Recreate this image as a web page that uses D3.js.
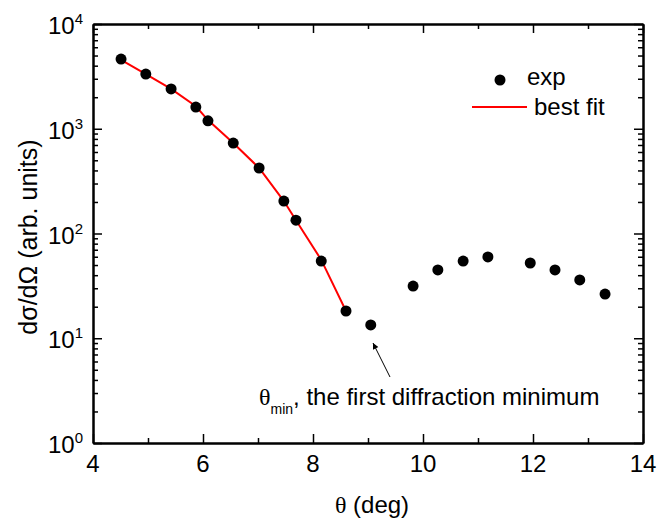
<!DOCTYPE html>
<html>
<head>
<meta charset="utf-8">
<script src="https://cdn.jsdelivr.net/npm/d3@7"></script>
<style>
  body { margin: 0; background: #fff; }
  text { font-family: "Liberation Sans", Arial, sans-serif; fill: #000; }
  .domain { stroke: #000; stroke-width: 2; }
  .tick line { stroke: #000; stroke-width: 1.5; }
</style>
</head>
<body>
<div id="chart"></div>
<script>
// DATA
var expTheta = [4.51, 4.96, 5.42, 5.87, 6.09, 6.55, 7.02, 7.47, 7.69, 8.15, 8.6, 9.05,
                9.82, 10.27, 10.73, 11.18, 11.95, 12.4, 12.85, 13.31]
var expSigma = [4630, 3330, 2400, 1610, 1190, 730, 422, 204, 134, 54.6, 18.2, 13.4,
                31.5, 44.9, 54.6, 59.7, 52.3, 44.9, 36.0, 26.4]
var fitTheta = [4.51, 4.96, 5.42, 5.87, 6.09, 6.55, 7.02, 7.47, 7.69, 8.15, 8.6]
var fitSigma = [4550, 3330, 2400, 1640, 1210, 730, 422, 204, 134, 56, 18.2]
var xTicks = [4, 6, 8, 10, 12, 14]
var xMinor = [5, 7, 9, 11, 13]
var yExp = [0, 1, 2, 3, 4]

//MARGIN CONVENTION
var MARGIN = { LEFT: 93, RIGHT: 15, TOP: 24, BOTTOM: 75 }
var W = 658, H = 518
var CANVAS = { WIDTH: W - MARGIN.LEFT - MARGIN.RIGHT, HEIGHT: H - MARGIN.TOP - MARGIN.BOTTOM }

const svg = d3.select("#chart").append("svg").attr("width", W).attr("height", H)
const g = svg.append("g").attr("transform", `translate(${MARGIN.LEFT}, ${MARGIN.TOP})`)

//SCALES
const x = d3.scaleLinear().domain([4, 14]).range([0, CANVAS.WIDTH])
const y = d3.scaleLog().domain([1, 1e4]).range([CANVAS.HEIGHT, 0])

var yMajor = yExp.map(e => Math.pow(10, e))
var yMinor = []
yExp.slice(0, -1).forEach(e => { for (var k = 2; k <= 9; k++) yMinor.push(k * Math.pow(10, e)) })

//AXES (inward ticks on all four sides)
function addAxis(axisFn, scale, values, size, transform) {
  return g.append("g").attr("transform", transform)
    .call(axisFn(scale).tickValues(values).tickSizeInner(-size).tickSizeOuter(0).tickFormat(""))
}
addAxis(d3.axisBottom, x, xTicks, 9, `translate(0, ${CANVAS.HEIGHT})`)
addAxis(d3.axisBottom, x, xMinor, 5, `translate(0, ${CANVAS.HEIGHT})`)
addAxis(d3.axisTop, x, xTicks, 9, `translate(0, 0)`)
addAxis(d3.axisTop, x, xMinor, 5, `translate(0, 0)`)
addAxis(d3.axisLeft, y, yMajor, 9, `translate(0, 0)`)
addAxis(d3.axisLeft, y, yMinor, 5, `translate(0, 0)`)
addAxis(d3.axisRight, y, yMajor, 9, `translate(${CANVAS.WIDTH}, 0)`)
addAxis(d3.axisRight, y, yMinor, 5, `translate(${CANVAS.WIDTH}, 0)`)

// tick labels
g.selectAll(".xlab").data(xTicks).join("text")
  .attr("x", d => x(d)).attr("y", CANVAS.HEIGHT + 29)
  .attr("text-anchor", "middle").attr("font-size", 24).text(d => d)

const yl = g.selectAll(".ylab").data(yExp).join("text")
  .attr("x", -10).attr("y", d => y(Math.pow(10, d)) + 10)
  .attr("text-anchor", "end").attr("font-size", 24)
yl.append("tspan").text("10")
yl.append("tspan").attr("font-size", 15).attr("dy", -10).text(d => d)

// axis titles
svg.append("text")
  .attr("transform", `translate(37, 237) rotate(-90)`)
  .attr("text-anchor", "middle").attr("font-size", 25)
  .text("dσ/dΩ (arb. units)")
const xt = svg.append("text")
  .attr("x", 372).attr("y", 513)
  .attr("text-anchor", "middle").attr("font-size", 24)
xt.append("tspan").attr("font-family", "Liberation Serif, DejaVu Serif, serif").text("θ")
xt.append("tspan").text(" (deg)")

// fit line
const line = d3.line().x(d => x(d[0])).y(d => y(d[1]))
g.append("path").datum(d3.zip(fitTheta, fitSigma))
  .attr("d", line).attr("fill", "none").attr("stroke", "#ff0000").attr("stroke-width", 2)

// exp points
g.selectAll(".pt").data(d3.zip(expTheta, expSigma)).join("circle")
  .attr("cx", d => x(d[0])).attr("cy", d => y(d[1])).attr("r", 5.5).attr("fill", "#000")

// legend
g.append("circle").attr("cx", 407).attr("cy", 56).attr("r", 5.5).attr("fill", "#000")
g.append("text").attr("x", 434).attr("y", 61).attr("font-size", 24).text("exp")
g.append("line").attr("x1", 379).attr("x2", 434).attr("y1", 83).attr("y2", 83)
  .attr("stroke", "#ff0000").attr("stroke-width", 2)
g.append("text").attr("x", 441).attr("y", 91).attr("font-size", 24).text("best fit")

// annotation
svg.append("defs").append("marker").attr("id", "arr")
  .attr("viewBox", "0 0 10 10").attr("refX", 10).attr("refY", 5)
  .attr("markerWidth", 14).attr("markerHeight", 6).attr("markerUnits", "userSpaceOnUse")
  .attr("orient", "auto")
  .append("path").attr("d", "M0,0 L10,5 L0,10 z").attr("fill", "#000")
svg.append("line").attr("x1", 390).attr("y1", 377).attr("x2", 373).attr("y2", 343)
  .attr("stroke", "#000").attr("stroke-width", 1).attr("marker-end", "url(#arr)")

const ann = svg.append("text").attr("x", 259).attr("y", 405).attr("font-size", 24)
ann.append("tspan").attr("font-family", "Liberation Serif, DejaVu Serif, serif").text("θ")
ann.append("tspan").attr("font-size", 14).attr("dy", 9).text("min")
ann.append("tspan").attr("dy", -9).text(", the first diffraction minimum")
</script>
</body>
</html>
